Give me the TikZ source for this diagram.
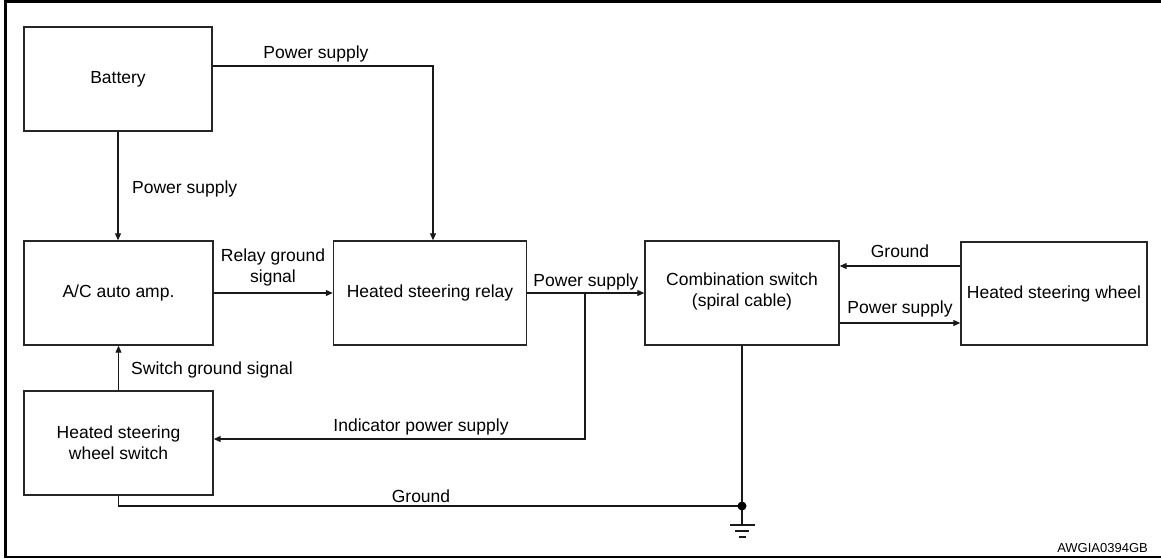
\documentclass[tikz,border=0pt]{standalone}
\usepackage{fontspec}
\setmainfont{Liberation Sans}
\usetikzlibrary{arrows.meta,calc}
\begin{document}
\begin{tikzpicture}[x=1pt,y=-1pt,
  blk/.style={draw=black!85,line width=1.4pt,rectangle,inner sep=0pt,align=center,
    font=\fontsize{17.5}{21}\selectfont},
  conn/.style={draw=black!90,line width=1.1pt},
  arr/.style={conn,-{Triangle[length=7pt,width=6pt]}},
  lbl/.style={inner sep=0pt,anchor=base,align=center,font=\fontsize{17.5}{21}\selectfont}]
\useasboundingbox (0,0) rectangle (1161,558);
% frame
\draw[line width=3pt] (5,0) -- (5,557);
\draw[line width=3pt] (3.5,1.5) -- (1161,1.5);
\draw[line width=1.6pt] (3.5,557) -- (1161,557);
% blocks
\node[blk,minimum width=188pt,minimum height=104pt] (bat) at (118,79) {Battery};
\node[blk,minimum width=189pt,minimum height=104pt] (ac) at (118.5,293) {A/C auto amp.};
\node[blk,minimum width=193pt,minimum height=104pt] (rel) at (430,293) {Heated steering relay};
\node[blk,minimum width=194pt,minimum height=104pt] (comb) at (742,293) {};
\node[lbl] (combtxt) at (742,306) {Combination switch\\(spiral cable)};
\node[blk,minimum width=186pt,minimum height=103pt] (hsw) at (1054,293.5) {Heated steering wheel};
\node[blk,minimum width=189pt,minimum height=104pt] (sw) at (118.5,443) {Heated steering\\wheel switch};
% connectors
\draw[arr] ([yshift=13pt]bat.east) -| ([xshift=3pt]rel.north);
\draw[arr] (bat.south) -- (bat.south |- ac.north);
\draw[arr] (ac.east) -- (rel.west);
\draw[arr] (rel.east) -- (comb.west);
\coordinate (br) at (585,293);
\draw[arr] (br) |- ([yshift=4pt]sw.east);
\draw[arr] (sw.north) -- (sw.north |- ac.south);
\coordinate (gnd) at (742,506);
\draw[conn] (sw.south) |- (gnd);
\draw[conn] (comb.south) -- (gnd);
\coordinate (gsym) at (742,525);
\draw[conn] (gnd) -- (gsym);
\draw[conn] ([xshift=-12.5pt]gsym) -- ([xshift=12.5pt]gsym);
\draw[conn] ($(gsym)+(-7,6)$) -- ($(gsym)+(7,6)$);
\draw[conn] ($(gsym)+(-3.5,12)$) -- ($(gsym)+(3.5,12)$);
\fill[black] (gnd) circle (4.5pt);
\draw[arr] ([yshift=27.5pt]hsw.west) -- ([yshift=27.5pt]hsw.west -| comb.east);
\draw[arr] ([yshift=-30pt]comb.east) -- ([yshift=-30pt]comb.east -| hsw.west);
% labels
\node[lbl] (l1) at (316,58) {Power supply};
\node[lbl,anchor=base west] (l2) at (132,193) {Power supply};
\node[lbl] (l3) at (273,282) {Relay ground\\signal};
\node[lbl] (l4) at (586,286) {Power supply};
\node[lbl,anchor=base west] (l5) at (131,374) {Switch ground signal};
\node[lbl] (l6) at (421,431) {Indicator power supply};
\node[lbl] (l7) at (421,502) {Ground};
\node[lbl] (l8) at (900,257) {Ground};
\node[lbl] (l9) at (900,313) {Power supply};
\node[inner sep=0pt,anchor=base east,font=\fontsize{13}{15}\selectfont] (code) at (1148,552) {AWGIA0394GB};
\end{tikzpicture}
\end{document}
